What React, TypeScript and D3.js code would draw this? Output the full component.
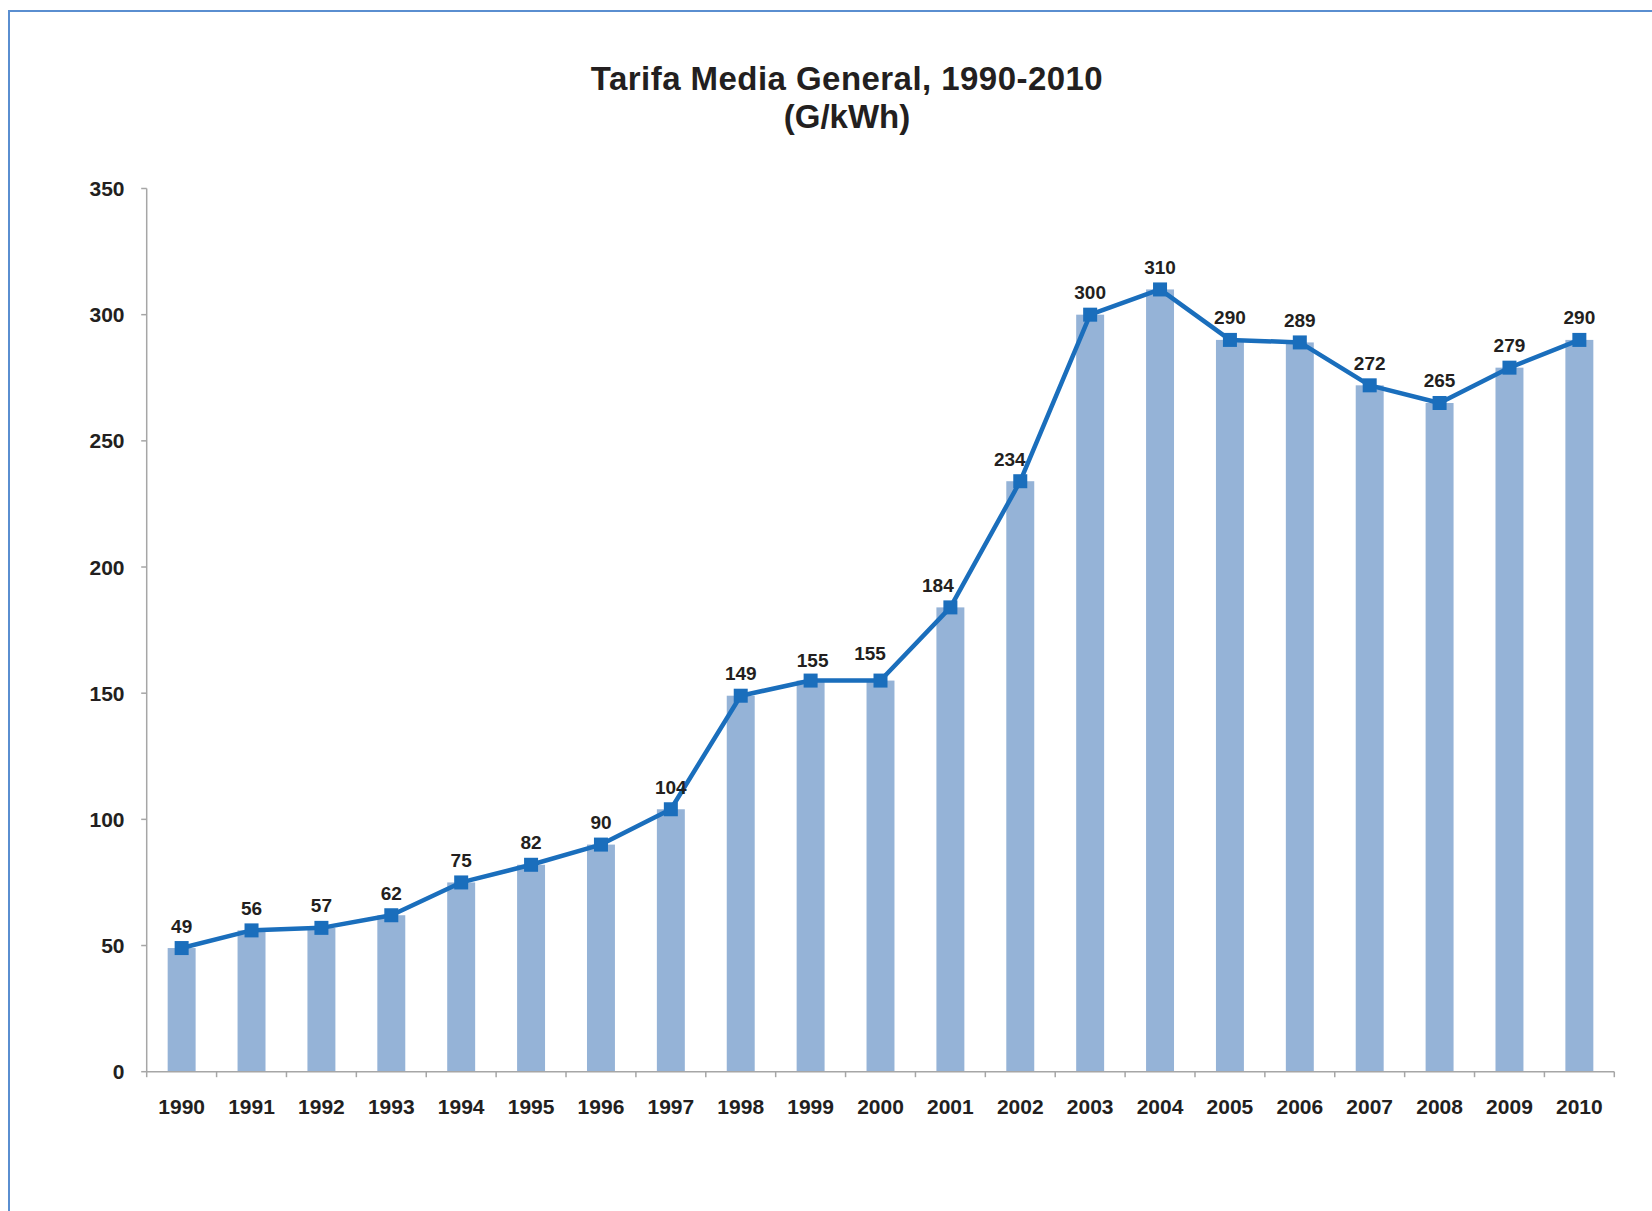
import React from "react";
import * as d3 from "d3";

const years = ["1990","1991","1992","1993","1994","1995","1996","1997","1998","1999","2000","2001","2002","2003","2004","2005","2006","2007","2008","2009","2010"];
const tarifa = [49,56,57,62,75,82,90,104,149,155,155,184,234,300,310,290,289,272,265,279,290];
const yTicks = [0,50,100,150,200,250,300,350];
const titleLines = ["Tarifa Media General, 1990-2010", "(G/kWh)"];
// manual data-label nudges (dx, dy in px) as in the original chart
const labelNudge: Record<string, [number, number]> = { "1999": [2, 1.5], "2000": [-10.5, -5], "2001": [-12.5, 0], "2002": [-10.5, 0] };

const W = 1652, H = 1211;
const left = 146.7, right = 1614.3, top = 188.5, bottom = 1071.7;
const textColor = "#231f20";
const lineColor = "#1a6ebc";
const barColor = "#95b3d7";
const axisColor = "#a6a6a6";
const font = "'Liberation Sans', Arial, Helvetica, sans-serif";

export default function App() {
  const x = d3.scaleBand<string>().domain(years).range([left, right]).paddingInner(0.6).paddingOuter(0.3);
  const y = d3.scaleLinear().domain([0, 350]).range([bottom, top]);
  const step = x.step();
  const bw = x.bandwidth();
  const cx = (d: string) => (x(d) as number) + bw / 2;
  const pts: [number, number][] = years.map((d, i) => [cx(d), y(tarifa[i])]);
  const line = d3.line()(pts) as string;
  const boundaries = years.map((d) => cx(d) - step / 2).concat([cx(years[years.length - 1]) + step / 2]);

  return (
    <svg width={W} height={H} style={{ position: "absolute", left: 0, top: 0, display: "block" }} fontFamily={font}>
      <rect x={0} y={0} width={W} height={H} fill="#fff" />
      <path d={`M9,${H} L9,11 L${W},11`} fill="none" stroke="#5a8ed0" strokeWidth={2} />
      {titleLines.map((t, i) => (
        <text key={t} x={847} y={90 + i * 38} textAnchor="middle" fontSize={33} fontWeight="bold" letterSpacing={i === 0 ? 0.45 : 0} fill={textColor}>{t}</text>
      ))}
      {years.map((d, i) => (
        <rect key={d} x={x(d) as number} y={y(tarifa[i])} width={bw} height={bottom - y(tarifa[i])} fill={barColor} />
      ))}
      <line x1={left} x2={left} y1={top} y2={bottom} stroke={axisColor} strokeWidth={1.5} />
      {yTicks.map((t) => (
        <g key={t}>
          <line x1={left - 5.5} x2={left} y1={y(t)} y2={y(t)} stroke={axisColor} strokeWidth={1.5} />
          <text x={124.5} y={y(t)} dy="0.36em" textAnchor="end" fontSize={21} fontWeight="bold" fill={textColor}>{t}</text>
        </g>
      ))}
      <line x1={left} x2={right} y1={bottom} y2={bottom} stroke={axisColor} strokeWidth={1.5} />
      {boundaries.map((b, i) => (
        <line key={i} x1={b} x2={b} y1={bottom} y2={bottom + 5.5} stroke={axisColor} strokeWidth={1.5} />
      ))}
      {years.map((d) => (
        <text key={d} x={cx(d)} y={1114} textAnchor="middle" fontSize={21} fontWeight="bold" fill={textColor}>{d}</text>
      ))}
      <path d={line} fill="none" stroke={lineColor} strokeWidth={4.5} strokeLinejoin="round" />
      {pts.map(([px, py], i) => (
        <rect key={i} x={px - 7} y={py - 7} width={14} height={14} fill={lineColor} />
      ))}
      {pts.map(([px, py], i) => {
        const [dx, dy] = labelNudge[years[i]] || [0, 0];
        return (
          <text key={i} x={px + dx} y={py - 15.5 + dy} textAnchor="middle" fontSize={19} fontWeight="bold" fill={textColor}>{tarifa[i]}</text>
        );
      })}
    </svg>
  );
}
